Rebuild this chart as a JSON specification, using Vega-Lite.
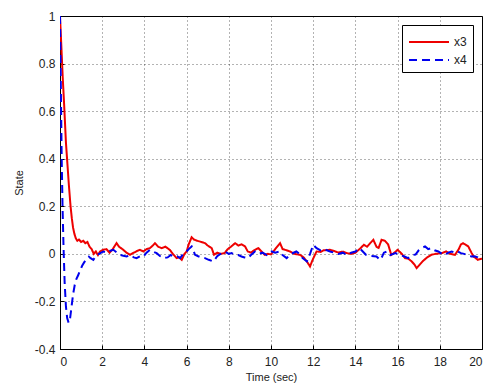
{
  "$schema": "https://vega.github.io/schema/vega-lite/v6.json",
  "width": 422,
  "height": 333,
  "autosize": {"type": "none"},
  "padding": {"left": 60, "top": 16, "right": 8, "bottom": 38},
  "background": "white",
  "config": {
    "font": "Liberation Sans",
    "view": {"stroke": "black", "strokeWidth": 1},
    "axis": {
      "labelFont": "Liberation Sans",
      "titleFont": "Liberation Sans",
      "labelFontSize": 12,
      "titleFontSize": 11,
      "titleFontWeight": "normal",
      "labelColor": "#222",
      "titleColor": "#222",
      "domainColor": "black",
      "tickColor": "black",
      "tickSize": -4,
      "gridColor": "#000",
      "gridOpacity": 0.6,
      "gridDash": [1, 3],
      "gridWidth": 1
    }
  },
  "data": {"values": [
    {"t":0,"v":1,"s":"x3"},{"t":0.05,"v":0.9,"s":"x3"},{"t":0.13,"v":0.74,"s":"x3"},{"t":0.2,"v":0.62,"s":"x3"},{"t":0.28,"v":0.47,"s":"x3"},{"t":0.35,"v":0.38,"s":"x3"},{"t":0.42,"v":0.29,"s":"x3"},{"t":0.5,"v":0.2,"s":"x3"},{"t":0.56,"v":0.15,"s":"x3"},{"t":0.62,"v":0.11,"s":"x3"},{"t":0.68,"v":0.085,"s":"x3"},{"t":0.75,"v":0.065,"s":"x3"},{"t":0.82,"v":0.055,"s":"x3"},{"t":0.9,"v":0.06,"s":"x3"},{"t":1.0,"v":0.05,"s":"x3"},{"t":1.1,"v":0.055,"s":"x3"},{"t":1.2,"v":0.045,"s":"x3"},{"t":1.3,"v":0.05,"s":"x3"},{"t":1.4,"v":0.03,"s":"x3"},{"t":1.5,"v":0.02,"s":"x3"},{"t":1.6,"v":0.0,"s":"x3"},{"t":1.7,"v":0.01,"s":"x3"},{"t":1.8,"v":-0.005,"s":"x3"},{"t":1.9,"v":0.01,"s":"x3"},{"t":2.05,"v":0.017,"s":"x3"},{"t":2.2,"v":0.02,"s":"x3"},{"t":2.35,"v":0.005,"s":"x3"},{"t":2.5,"v":0.02,"s":"x3"},{"t":2.68,"v":0.045,"s":"x3"},{"t":2.8,"v":0.03,"s":"x3"},{"t":3.0,"v":0.017,"s":"x3"},{"t":3.15,"v":0.005,"s":"x3"},{"t":3.32,"v":-0.004,"s":"x3"},{"t":3.5,"v":0.005,"s":"x3"},{"t":3.65,"v":0.012,"s":"x3"},{"t":3.79,"v":0.017,"s":"x3"},{"t":3.95,"v":0.01,"s":"x3"},{"t":4.1,"v":0.02,"s":"x3"},{"t":4.26,"v":0.024,"s":"x3"},{"t":4.4,"v":0.035,"s":"x3"},{"t":4.5,"v":0.045,"s":"x3"},{"t":4.65,"v":0.03,"s":"x3"},{"t":4.82,"v":0.024,"s":"x3"},{"t":5.0,"v":0.03,"s":"x3"},{"t":5.2,"v":0.017,"s":"x3"},{"t":5.35,"v":0.0,"s":"x3"},{"t":5.53,"v":-0.018,"s":"x3"},{"t":5.65,"v":-0.015,"s":"x3"},{"t":5.77,"v":-0.025,"s":"x3"},{"t":5.9,"v":0.0,"s":"x3"},{"t":6.0,"v":0.01,"s":"x3"},{"t":6.1,"v":0.04,"s":"x3"},{"t":6.24,"v":0.07,"s":"x3"},{"t":6.35,"v":0.06,"s":"x3"},{"t":6.5,"v":0.055,"s":"x3"},{"t":6.7,"v":0.05,"s":"x3"},{"t":6.87,"v":0.045,"s":"x3"},{"t":7.0,"v":0.035,"s":"x3"},{"t":7.19,"v":0.024,"s":"x3"},{"t":7.3,"v":-0.004,"s":"x3"},{"t":7.45,"v":0.005,"s":"x3"},{"t":7.6,"v":0.0,"s":"x3"},{"t":7.8,"v":0.003,"s":"x3"},{"t":7.95,"v":0.02,"s":"x3"},{"t":8.1,"v":0.03,"s":"x3"},{"t":8.3,"v":0.045,"s":"x3"},{"t":8.45,"v":0.035,"s":"x3"},{"t":8.6,"v":0.04,"s":"x3"},{"t":8.77,"v":0.031,"s":"x3"},{"t":8.9,"v":0.01,"s":"x3"},{"t":9.05,"v":0.005,"s":"x3"},{"t":9.2,"v":0.015,"s":"x3"},{"t":9.4,"v":0.024,"s":"x3"},{"t":9.55,"v":0.01,"s":"x3"},{"t":9.7,"v":-0.004,"s":"x3"},{"t":9.85,"v":0.0,"s":"x3"},{"t":10.0,"v":-0.002,"s":"x3"},{"t":10.2,"v":0.02,"s":"x3"},{"t":10.43,"v":0.045,"s":"x3"},{"t":10.55,"v":0.02,"s":"x3"},{"t":10.74,"v":0.015,"s":"x3"},{"t":10.9,"v":0.01,"s":"x3"},{"t":11.1,"v":0.0,"s":"x3"},{"t":11.37,"v":-0.004,"s":"x3"},{"t":11.55,"v":-0.015,"s":"x3"},{"t":11.7,"v":-0.032,"s":"x3"},{"t":11.85,"v":-0.053,"s":"x3"},{"t":11.95,"v":-0.03,"s":"x3"},{"t":12.05,"v":-0.01,"s":"x3"},{"t":12.16,"v":0.01,"s":"x3"},{"t":12.35,"v":0.008,"s":"x3"},{"t":12.5,"v":0.015,"s":"x3"},{"t":12.8,"v":0.017,"s":"x3"},{"t":13.0,"v":0.012,"s":"x3"},{"t":13.2,"v":0.005,"s":"x3"},{"t":13.4,"v":0.01,"s":"x3"},{"t":13.6,"v":0.003,"s":"x3"},{"t":13.8,"v":0.0,"s":"x3"},{"t":14.0,"v":0.005,"s":"x3"},{"t":14.2,"v":0.02,"s":"x3"},{"t":14.4,"v":0.038,"s":"x3"},{"t":14.55,"v":0.03,"s":"x3"},{"t":14.7,"v":0.045,"s":"x3"},{"t":14.85,"v":0.059,"s":"x3"},{"t":15.0,"v":0.03,"s":"x3"},{"t":15.1,"v":0.025,"s":"x3"},{"t":15.24,"v":0.059,"s":"x3"},{"t":15.4,"v":0.055,"s":"x3"},{"t":15.55,"v":0.04,"s":"x3"},{"t":15.7,"v":-0.004,"s":"x3"},{"t":15.85,"v":0.005,"s":"x3"},{"t":16.0,"v":0.017,"s":"x3"},{"t":16.2,"v":0.0,"s":"x3"},{"t":16.35,"v":-0.018,"s":"x3"},{"t":16.5,"v":-0.02,"s":"x3"},{"t":16.67,"v":-0.032,"s":"x3"},{"t":16.8,"v":-0.045,"s":"x3"},{"t":16.9,"v":-0.06,"s":"x3"},{"t":17.05,"v":-0.045,"s":"x3"},{"t":17.2,"v":-0.03,"s":"x3"},{"t":17.4,"v":-0.015,"s":"x3"},{"t":17.6,"v":-0.004,"s":"x3"},{"t":17.8,"v":0.0,"s":"x3"},{"t":18.1,"v":0.003,"s":"x3"},{"t":18.3,"v":0.01,"s":"x3"},{"t":18.5,"v":0.0,"s":"x3"},{"t":18.72,"v":-0.004,"s":"x3"},{"t":18.9,"v":0.02,"s":"x3"},{"t":19.0,"v":0.04,"s":"x3"},{"t":19.1,"v":0.045,"s":"x3"},{"t":19.2,"v":0.04,"s":"x3"},{"t":19.35,"v":0.031,"s":"x3"},{"t":19.5,"v":0.005,"s":"x3"},{"t":19.6,"v":-0.011,"s":"x3"},{"t":19.8,"v":-0.025,"s":"x3"},{"t":20.0,"v":-0.02,"s":"x3"},
    {"t":0,"v":1,"s":"x4"},{"t":0.04,"v":0.7,"s":"x4"},{"t":0.08,"v":0.4,"s":"x4"},{"t":0.12,"v":0.2,"s":"x4"},{"t":0.17,"v":0.02,"s":"x4"},{"t":0.22,"v":-0.12,"s":"x4"},{"t":0.28,"v":-0.22,"s":"x4"},{"t":0.34,"v":-0.27,"s":"x4"},{"t":0.41,"v":-0.29,"s":"x4"},{"t":0.48,"v":-0.27,"s":"x4"},{"t":0.55,"v":-0.22,"s":"x4"},{"t":0.62,"v":-0.17,"s":"x4"},{"t":0.7,"v":-0.13,"s":"x4"},{"t":0.78,"v":-0.105,"s":"x4"},{"t":0.86,"v":-0.09,"s":"x4"},{"t":0.95,"v":-0.07,"s":"x4"},{"t":1.05,"v":-0.05,"s":"x4"},{"t":1.15,"v":-0.035,"s":"x4"},{"t":1.25,"v":-0.025,"s":"x4"},{"t":1.37,"v":-0.012,"s":"x4"},{"t":1.45,"v":-0.018,"s":"x4"},{"t":1.58,"v":-0.025,"s":"x4"},{"t":1.7,"v":-0.01,"s":"x4"},{"t":1.85,"v":0.0,"s":"x4"},{"t":2.05,"v":0.01,"s":"x4"},{"t":2.2,"v":0.005,"s":"x4"},{"t":2.35,"v":0.012,"s":"x4"},{"t":2.53,"v":0.017,"s":"x4"},{"t":2.7,"v":0.005,"s":"x4"},{"t":2.84,"v":-0.004,"s":"x4"},{"t":3.0,"v":-0.008,"s":"x4"},{"t":3.16,"v":-0.011,"s":"x4"},{"t":3.35,"v":-0.005,"s":"x4"},{"t":3.5,"v":-0.015,"s":"x4"},{"t":3.63,"v":-0.018,"s":"x4"},{"t":3.8,"v":-0.01,"s":"x4"},{"t":3.95,"v":-0.012,"s":"x4"},{"t":4.1,"v":0.005,"s":"x4"},{"t":4.26,"v":0.017,"s":"x4"},{"t":4.4,"v":0.01,"s":"x4"},{"t":4.58,"v":0.003,"s":"x4"},{"t":4.75,"v":-0.01,"s":"x4"},{"t":4.9,"v":-0.018,"s":"x4"},{"t":5.1,"v":-0.015,"s":"x4"},{"t":5.25,"v":-0.005,"s":"x4"},{"t":5.37,"v":-0.011,"s":"x4"},{"t":5.55,"v":-0.01,"s":"x4"},{"t":5.69,"v":-0.018,"s":"x4"},{"t":5.85,"v":0.0,"s":"x4"},{"t":6.0,"v":0.01,"s":"x4"},{"t":6.1,"v":0.02,"s":"x4"},{"t":6.24,"v":0.031,"s":"x4"},{"t":6.32,"v":0.015,"s":"x4"},{"t":6.4,"v":-0.004,"s":"x4"},{"t":6.55,"v":-0.01,"s":"x4"},{"t":6.7,"v":-0.015,"s":"x4"},{"t":6.87,"v":-0.018,"s":"x4"},{"t":7.05,"v":-0.025,"s":"x4"},{"t":7.27,"v":-0.032,"s":"x4"},{"t":7.45,"v":-0.01,"s":"x4"},{"t":7.66,"v":0.003,"s":"x4"},{"t":7.85,"v":0.008,"s":"x4"},{"t":8.0,"v":0.0,"s":"x4"},{"t":8.13,"v":0.003,"s":"x4"},{"t":8.3,"v":-0.005,"s":"x4"},{"t":8.45,"v":-0.005,"s":"x4"},{"t":8.6,"v":-0.011,"s":"x4"},{"t":8.75,"v":-0.015,"s":"x4"},{"t":8.9,"v":-0.018,"s":"x4"},{"t":9.05,"v":-0.005,"s":"x4"},{"t":9.24,"v":0.01,"s":"x4"},{"t":9.4,"v":0.0,"s":"x4"},{"t":9.6,"v":0.005,"s":"x4"},{"t":9.8,"v":-0.005,"s":"x4"},{"t":10.03,"v":0.01,"s":"x4"},{"t":10.2,"v":0.005,"s":"x4"},{"t":10.43,"v":0.01,"s":"x4"},{"t":10.55,"v":-0.005,"s":"x4"},{"t":10.74,"v":-0.018,"s":"x4"},{"t":10.95,"v":0.0,"s":"x4"},{"t":11.2,"v":0.01,"s":"x4"},{"t":11.35,"v":0.0,"s":"x4"},{"t":11.5,"v":-0.018,"s":"x4"},{"t":11.7,"v":-0.032,"s":"x4"},{"t":11.85,"v":0.0,"s":"x4"},{"t":12.0,"v":0.038,"s":"x4"},{"t":12.16,"v":0.024,"s":"x4"},{"t":12.35,"v":0.015,"s":"x4"},{"t":12.5,"v":0.02,"s":"x4"},{"t":12.8,"v":0.01,"s":"x4"},{"t":13.0,"v":0.005,"s":"x4"},{"t":13.2,"v":0.0,"s":"x4"},{"t":13.4,"v":0.005,"s":"x4"},{"t":13.6,"v":-0.004,"s":"x4"},{"t":13.8,"v":0.005,"s":"x4"},{"t":14.0,"v":0.01,"s":"x4"},{"t":14.2,"v":0.024,"s":"x4"},{"t":14.35,"v":0.01,"s":"x4"},{"t":14.5,"v":-0.004,"s":"x4"},{"t":14.7,"v":-0.008,"s":"x4"},{"t":15.0,"v":-0.011,"s":"x4"},{"t":15.1,"v":-0.02,"s":"x4"},{"t":15.2,"v":-0.025,"s":"x4"},{"t":15.35,"v":0.005,"s":"x4"},{"t":15.5,"v":0.01,"s":"x4"},{"t":15.65,"v":-0.005,"s":"x4"},{"t":15.9,"v":0.003,"s":"x4"},{"t":16.1,"v":-0.004,"s":"x4"},{"t":16.3,"v":-0.01,"s":"x4"},{"t":16.5,"v":-0.018,"s":"x4"},{"t":16.7,"v":-0.005,"s":"x4"},{"t":16.85,"v":-0.003,"s":"x4"},{"t":17.0,"v":0.015,"s":"x4"},{"t":17.15,"v":0.025,"s":"x4"},{"t":17.3,"v":0.031,"s":"x4"},{"t":17.45,"v":0.02,"s":"x4"},{"t":17.6,"v":0.024,"s":"x4"},{"t":17.75,"v":0.015,"s":"x4"},{"t":17.93,"v":0.01,"s":"x4"},{"t":18.1,"v":0.0,"s":"x4"},{"t":18.25,"v":-0.004,"s":"x4"},{"t":18.4,"v":0.005,"s":"x4"},{"t":18.56,"v":0.01,"s":"x4"},{"t":18.7,"v":0.005,"s":"x4"},{"t":18.85,"v":0.01,"s":"x4"},{"t":19.0,"v":0.003,"s":"x4"},{"t":19.15,"v":0.0,"s":"x4"},{"t":19.3,"v":-0.005,"s":"x4"},{"t":19.5,"v":-0.011,"s":"x4"},{"t":19.65,"v":-0.01,"s":"x4"},{"t":19.8,"v":-0.015,"s":"x4"},{"t":19.98,"v":-0.025,"s":"x4"}
  ]},
  "mark": {"type": "line", "strokeWidth": 2, "clip": true},
  "encoding": {
    "x": {
      "field": "t", "type": "quantitative",
      "scale": {"domain": [0, 20], "nice": false, "zero": false},
      "axis": {"title": "Time (sec)", "values": [0,2,4,6,8,10,12,14,16,18,20], "labelExpr": "'' + datum.value", "labelPadding": 11, "titlePadding": 4}
    },
    "y": {
      "field": "v", "type": "quantitative",
      "scale": {"domain": [-0.4, 1], "nice": false, "zero": false},
      "axis": {"title": "State", "values": [-0.4,-0.2,0,0.2,0.4,0.6,0.8,1], "labelExpr": "'' + datum.value", "labelPadding": 9, "titlePadding": 10}
    },
    "color": {
      "field": "s", "type": "nominal",
      "scale": {"domain": ["x3", "x4"], "range": ["#ee0000", "#0000ee"]},
      "legend": {
        "title": null, "orient": "top-right", "offset": 9,
        "strokeColor": "black", "fillColor": "white", "padding": 6,
        "symbolType": "M-1,0H3", "symbolSize": 400, "symbolStrokeWidth": 2,
        "labelFont": "Liberation Sans", "labelFontSize": 12, "labelColor": "#222",
        "labelOffset": 24,
        "rowPadding": 1
      }
    },
    "strokeDash": {
      "field": "s", "type": "nominal",
      "scale": {"domain": ["x3", "x4"], "range": [[1, 0], [8, 5]]},
      "legend": null
    }
  }
}
